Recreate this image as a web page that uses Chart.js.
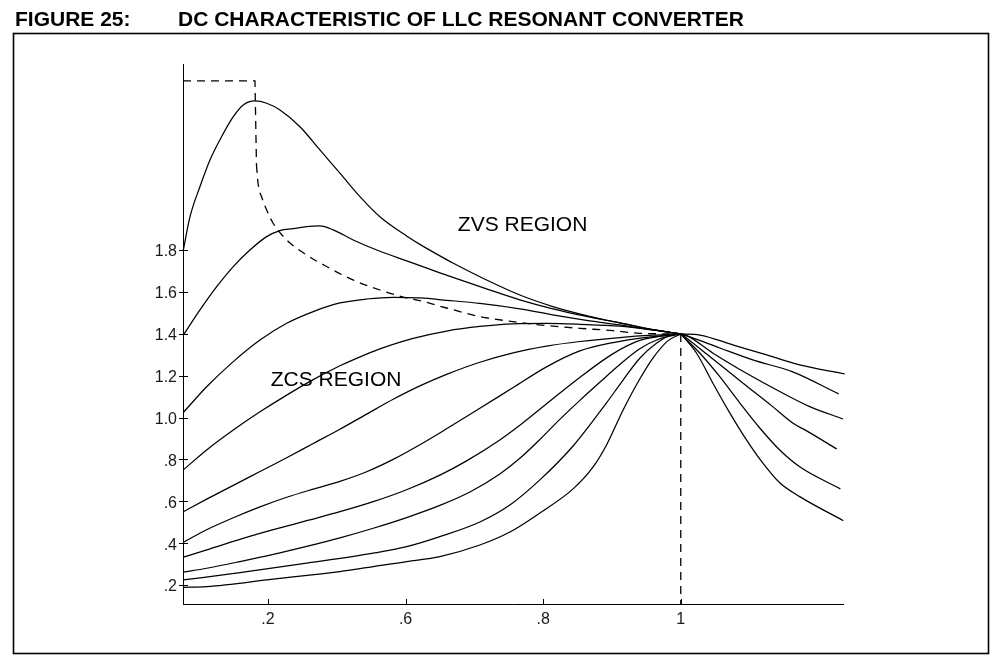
<!DOCTYPE html>
<html>
<head>
<meta charset="utf-8">
<script src="https://cdn.jsdelivr.net/npm/chart.js@4.4.1/dist/chart.umd.min.js"></script>
<style>
  html, body { margin:0; padding:0; background:#fff; }
  #wrap { position:relative; width:1002px; height:667px; }
  canvas { position:absolute; left:0; top:0; }
  .ttl { position:absolute; top:8px; font-family:"Liberation Sans", Arial, sans-serif; font-weight:bold; font-size:21px; line-height:21px; color:#000; white-space:nowrap; }
</style>
</head>
<body>
<div id="wrap">
  <canvas id="c" width="1002" height="667"></canvas>
  <div class="ttl" style="left:15px">FIGURE 25:</div>
  <div class="ttl" style="left:178px">DC CHARACTERISTIC OF LLC RESONANT CONVERTER</div>
</div>
<script>
// ---- tick values and labels ----
const xTickValues = [0.4, 0.6, 0.8, 1.0];
const xTickLabels = ['.2', '.6', '.8', '1'];
const yTickValues = [0.2, 0.4, 0.6, 0.8, 1.0, 1.2, 1.4, 1.6, 1.8];
const yTickLabels = ['.2', '.4', '.6', '.8', '1.0', '1.2', '1.4', '1.6', '1.8'];

// ---- gain curves below resonance (x <= 1), [normalized frequency, gain] ----
const curve1 = [[0.277,1.800],[0.2867,1.959],[0.3012,2.103],[0.3157,2.230],[0.3327,2.342],[0.3496,2.437],[0.3641,2.493],[0.3811,2.512],[0.3981,2.501],[0.4174,2.469],[0.4465,2.389],[0.4755,2.278],[0.5046,2.167],[0.5337,2.055],[0.5627,1.959],[0.6015,1.867],[0.6208,1.827],[0.6499,1.772],[0.6688,1.738],[0.7177,1.657],[0.7661,1.585],[0.8140,1.530],[0.8630,1.487],[0.9114,1.452],[0.9593,1.420],[1.0,1.399]];
const curve2 = [[0.277,1.394],[0.3012,1.514],[0.3255,1.625],[0.3496,1.721],[0.3738,1.800],[0.3981,1.864],[0.4174,1.893],[0.4368,1.902],[0.4562,1.912],[0.4755,1.915],[0.4949,1.896],[0.5239,1.848],[0.5627,1.794],[0.6015,1.748],[0.6499,1.691],[0.7177,1.614],[0.7661,1.562],[0.8140,1.519],[0.8630,1.483],[0.9114,1.452],[0.9593,1.420],[1.0,1.399]];
const curve3 = [[0.277,1.024],[0.3109,1.147],[0.3496,1.267],[0.3884,1.370],[0.4272,1.450],[0.4658,1.506],[0.5046,1.547],[0.5434,1.566],[0.5820,1.574],[0.6208,1.571],[0.6596,1.560],[0.7080,1.545],[0.7661,1.519],[0.8140,1.490],[0.8630,1.464],[0.9114,1.442],[0.9593,1.418],[1.0,1.399]];
const curve4 = [[0.277,0.750],[0.3109,0.845],[0.3496,0.940],[0.3884,1.027],[0.4272,1.107],[0.4658,1.181],[0.5046,1.247],[0.5434,1.303],[0.5627,1.328],[0.6111,1.378],[0.6596,1.413],[0.7080,1.435],[0.7564,1.447],[0.8049,1.449],[0.8533,1.445],[0.9114,1.436],[0.9593,1.418],[1.0,1.399]];
const curve5 = [[0.277,0.550],[0.3109,0.610],[0.3496,0.676],[0.3884,0.742],[0.4272,0.808],[0.4658,0.876],[0.5046,0.944],[0.5434,1.016],[0.5820,1.087],[0.6208,1.151],[0.6596,1.206],[0.7080,1.264],[0.7564,1.309],[0.8049,1.341],[0.8533,1.363],[0.9114,1.382],[0.9593,1.393],[1.0,1.399]];
const curve6 = [[0.277,0.404],[0.3109,0.464],[0.3496,0.521],[0.3884,0.573],[0.4272,0.619],[0.4658,0.658],[0.5046,0.695],[0.5434,0.741],[0.5820,0.800],[0.6208,0.870],[0.6596,0.946],[0.7080,1.044],[0.7564,1.143],[0.8049,1.242],[0.8533,1.318],[0.9017,1.358],[0.9502,1.383],[1.0,1.399]];
const curve7 = [[0.277,0.333],[0.3109,0.368],[0.3593,0.418],[0.4077,0.464],[0.4562,0.507],[0.5046,0.550],[0.5530,0.598],[0.6015,0.655],[0.6499,0.725],[0.6887,0.793],[0.7370,0.893],[0.7661,0.963],[0.7995,1.051],[0.8475,1.177],[0.9012,1.304],[0.9404,1.368],[0.9695,1.387],[1.0,1.399]];
const curve8 = [[0.277,0.261],[0.3109,0.280],[0.3593,0.312],[0.4077,0.346],[0.4562,0.384],[0.5046,0.425],[0.5530,0.471],[0.6015,0.522],[0.6499,0.580],[0.6935,0.644],[0.7370,0.730],[0.7661,0.805],[0.7952,0.895],[0.8242,0.991],[0.8533,1.082],[0.8823,1.168],[0.9114,1.253],[0.9404,1.328],[0.9695,1.376],[1.0,1.399]];
const curve9 = [[0.277,0.224],[0.3593,0.259],[0.4562,0.304],[0.5530,0.352],[0.6015,0.383],[0.6499,0.431],[0.7080,0.501],[0.7516,0.582],[0.7952,0.702],[0.8435,0.864],[0.8921,1.070],[0.9162,1.179],[0.9404,1.283],[0.9647,1.355],[0.9888,1.397],[1.0,1.399]];
const curve10 = [[0.277,0.189],[0.3109,0.192],[0.4077,0.228],[0.5046,0.264],[0.6015,0.312],[0.6499,0.336],[0.7080,0.391],[0.7516,0.453],[0.7952,0.544],[0.8435,0.659],[0.8726,0.764],[0.8921,0.869],[0.9162,1.036],[0.9404,1.184],[0.9598,1.285],[0.9811,1.366],[1.0,1.399]];

// ---- gain curves above resonance (x >= 1) ----
const aboveA = [[1.0,1.399],[1.0276,1.394],[1.0756,1.347],[1.1249,1.299],[1.1729,1.251],[1.2383,1.208]];
const aboveB = [[1.0,1.399],[1.0131,1.385],[1.0567,1.332],[1.1047,1.275],[1.1627,1.218],[1.2295,1.113]];
const aboveC = [[1.0,1.399],[1.0083,1.392],[1.0469,1.307],[1.0955,1.211],[1.1438,1.124],[1.1874,1.052],[1.2358,0.993]];
const aboveD = [[1.0,1.399],[1.0058,1.386],[1.0421,1.291],[1.0901,1.165],[1.1336,1.052],[1.1627,0.974],[1.1830,0.936],[1.2266,0.850]];
const aboveE = [[1.0,1.399],[1.0276,1.308],[1.0567,1.195],[1.0857,1.070],[1.1148,0.950],[1.1438,0.845],[1.1729,0.765],[1.2320,0.659]];
const aboveF = [[1.0,1.399],[1.0228,1.308],[1.0465,1.165],[1.0712,1.022],[1.0955,0.893],[1.1191,0.783],[1.1438,0.688],[1.1729,0.622],[1.2363,0.507]];

// ---- dashed ZVS/ZCS boundary ----
const dashCorner = [[0.2765,2.6075],[0.3811,2.6075],[0.3833,2.2063]];
const dashBoundary = [[0.3833,2.2063],[0.3855,2.120],[0.3913,2.049],[0.3981,1.991],[0.4073,1.929],[0.4272,1.848],[0.4562,1.776],[0.4853,1.721],[0.5235,1.657],[0.5627,1.609],[0.6015,1.571],[0.6208,1.558],[0.6596,1.523],[0.7080,1.482],[0.7559,1.458],[0.8049,1.439],[0.8533,1.426],[0.9012,1.415],[0.9404,1.402],[1.0,1.399]];
const dashResonance = [[1.0,1.399],[1.0,0.109]];

// ---- region annotations ----
const regionLabels = ['ZVS REGION', 'ZCS REGION'];
const regionX = [0.676, 0.404];
const regionY = [1.891, 1.151];

const FONT = '"Liberation Sans", Arial, sans-serif';

function solid(arr) {
  return { data: arr.map(([x, y]) => ({ x, y })), borderColor: '#000', borderWidth: 1.25,
    pointRadius: 0, showLine: true, fill: false, cubicInterpolationMode: 'monotone', clip: false };
}
function dashed(arr, smooth) {
  const d = solid(arr);
  d.borderDash = [8, 6];
  d.borderWidth = 1.3;
  if (!smooth) { d.cubicInterpolationMode = 'default'; d.tension = 0; }
  return d;
}

const datasets = [curve1, curve2, curve3, curve4, curve5, curve6, curve7, curve8, curve9, curve10,
  aboveA, aboveB, aboveC, aboveD, aboveE, aboveF].map(solid);
datasets.push(dashed(dashCorner, false), dashed(dashBoundary, true), dashed(dashResonance, false));

const decor = {
  id: 'decor',
  beforeDraw(chart) {
    const ctx = chart.ctx;
    ctx.save();
    ctx.fillStyle = '#fff';
    ctx.fillRect(0, 0, chart.width, chart.height);
    ctx.strokeStyle = '#000';
    ctx.lineWidth = 1.6;
    ctx.strokeRect(13.5, 33.5, 975, 620);
    ctx.restore();
  },
  afterDraw(chart) {
    const ctx = chart.ctx, xs = chart.scales.x, ys = chart.scales.y;
    const ax = xs.left, ay = ys.bottom;
    ctx.save();
    ctx.strokeStyle = '#000';
    ctx.lineWidth = 1;
    ctx.beginPath();
    yTickValues.forEach(v => {
      const p = Math.round(ys.getPixelForValue(v)) + 0.5;
      ctx.moveTo(ax - 4, p); ctx.lineTo(ax + 5, p);
    });
    xTickValues.forEach(v => {
      const p = Math.round(xs.getPixelForValue(v)) + 0.5;
      ctx.moveTo(p, ay); ctx.lineTo(p, ay - 5);
    });
    ctx.stroke();
    ctx.fillStyle = '#000';
    ctx.font = '21px ' + FONT;
    ctx.textAlign = 'left';
    ctx.textBaseline = 'alphabetic';
    regionLabels.forEach((t, i) => {
      ctx.fillText(t, xs.getPixelForValue(regionX[i]), ys.getPixelForValue(regionY[i]));
    });
    ctx.restore();
  }
};

new Chart(document.getElementById('c'), {
  type: 'scatter',
  data: { datasets },
  plugins: [decor],
  options: {
    responsive: false,
    animation: false,
    devicePixelRatio: 1,
    layout: { padding: { top: 64, right: 159, left: 0, bottom: 0 } },
    plugins: { legend: { display: false }, tooltip: { enabled: false }, title: { display: false } },
    scales: {
      x: {
        type: 'linear', min: 0.2765, max: 1.2358,
        afterBuildTicks: s => { s.ticks = xTickValues.map(v => ({ value: v })); },
        afterFit: s => { s.height = 63; },
        ticks: { callback: (v, i) => xTickLabels[i], font: { family: FONT, size: 16 }, color: '#1a1a1a',
          padding: 6, maxRotation: 0, autoSkip: false },
        grid: { display: false, drawTicks: false },
        border: { display: true, color: '#000', width: 1 }
      },
      y: {
        type: 'linear', min: 0.10925, max: 2.6884,
        afterBuildTicks: s => { s.ticks = yTickValues.map(v => ({ value: v })); },
        afterFit: s => { s.width = 183; },
        ticks: { callback: (v, i) => yTickLabels[i], font: { family: FONT, size: 16 }, color: '#1a1a1a',
          padding: 6, labelOffset: 2, autoSkip: false },
        grid: { display: false, drawTicks: false },
        border: { display: true, color: '#000', width: 1 }
      }
    }
  }
});
</script>
</body>
</html>
